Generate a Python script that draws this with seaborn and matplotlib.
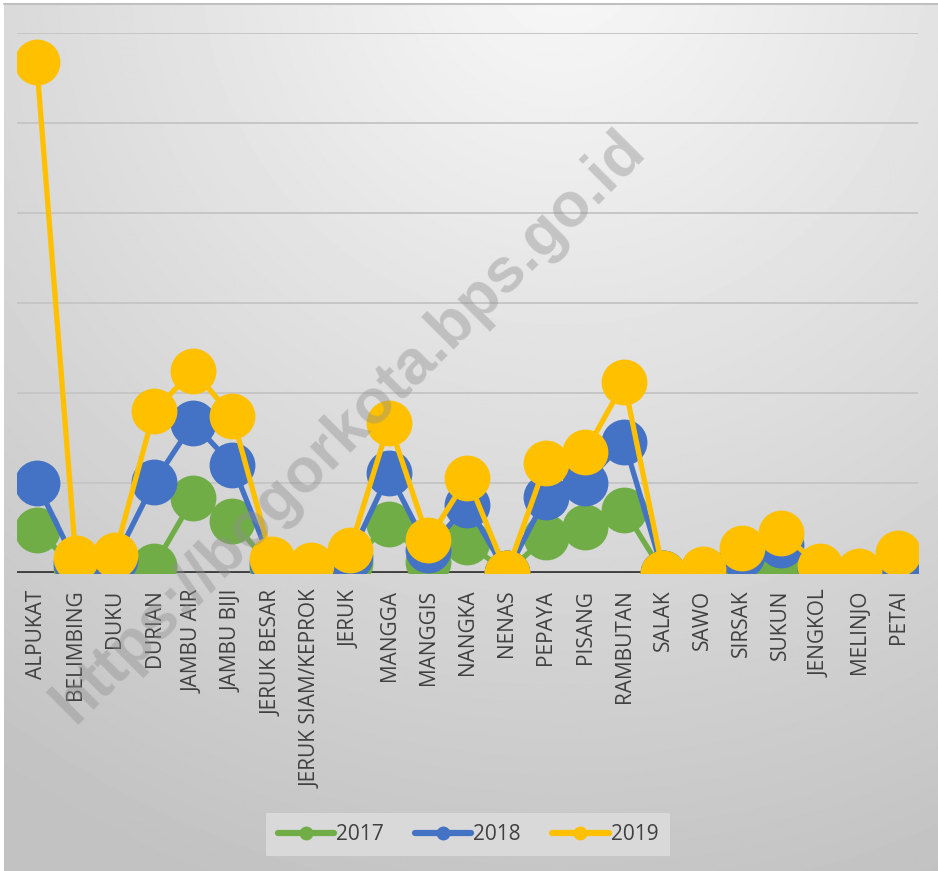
import numpy as np
import pandas as pd
import matplotlib
matplotlib.use("Agg")
import matplotlib.pyplot as plt
from matplotlib.lines import Line2D
import seaborn as sns

# Data (in gridline units x 1000; the chart shows no y labels)
buah = ['ALPUKAT', 'BELIMBING', 'DUKU', 'DURIAN', 'JAMBU AIR', 'JAMBU BIJI',
        'JERUK BESAR', 'JERUK SIAM/KEPROK', 'JERUK', 'MANGGA', 'MANGGIS',
        'NANGKA', 'NENAS', 'PEPAYA', 'PISANG', 'RAMBUTAN', 'SALAK', 'SAWO',
        'SIRSAK', 'SUKUN', 'JENGKOL', 'MELINJO', 'PETAI']
th2017 = [480, 60, 70, 80, 830, 580, 60, 35, 110, 550, 120, 340, 0, 400, 510,
          700, 0, 20, 90, 120, 35, 10, 70]
th2018 = [1000, 110, 140, 1010, 1670, 1200, 110, 55, 180, 1110, 260, 760, 0,
          840, 1000, 1460, 0, 35, 200, 310, 40, 15, 90]
th2019 = [5680, 170, 200, 1800, 2250, 1740, 160, 90, 260, 1670, 370, 1060, 0,
          1220, 1340, 2120, 0, 50, 280, 450, 80, 20, 220]
tahun = ['2017', '2018', '2019']
warna = ['#70AD47', '#4472C4', '#FFC000']

df = pd.DataFrame({
    'buah': buah * 3,
    'nilai': th2017 + th2018 + th2019,
    'tahun': [t for t in tahun for _ in buah],
})
df['pos'] = df['buah'].map({b: i for i, b in enumerate(buah)})

sns.set_theme(style='white')
plt.rcParams['font.family'] = ['Open Sans', 'DejaVu Sans']

W, H = 938, 871
fig = plt.figure(figsize=(W / 100, H / 100), dpi=100, facecolor='white')

# background gradient like the office chart style
bg = fig.add_axes([4 / W, 0, 1 - 4 / W, 1 - 5 / H], zorder=-5)
yy, xx = np.mgrid[0:H, 0:W]
dist = np.sqrt((xx - 560) ** 2 + (yy + 40) ** 2)
shade = np.clip(248 - 0.055 * dist, 194, 246) / 255
bg.imshow(shade, cmap='gray', vmin=0, vmax=1, aspect='auto', interpolation='bilinear')
bg.axis('off')
fig.add_artist(Line2D([4 / W, 1], [1 - 4.5 / H, 1 - 4.5 / H], color='#c0c0c0', lw=1.5))

ax = fig.add_axes([17 / W, 1 - 573 / H, 901 / W, 540 / H])
ax.set_facecolor('none')

sns.lineplot(data=df, x='pos', y='nilai', hue='tahun', palette=warna,
             marker='o', markersize=33, markeredgewidth=0, linewidth=3.8,
             legend=False, ax=ax, zorder=3)

ax.set_xlim(-0.5, len(buah) - 0.5)
ax.set_ylim(0, 6000)
ax.set_yticks(np.arange(1000, 6001, 1000))
ax.set_yticklabels([])
ax.yaxis.grid(True, color='#c6c6c6', lw=1.4)
ax.set_axisbelow(True)
ax.axhline(0, color='#404040', lw=2.8, zorder=2)
ax.set_xticks(range(len(buah)))
ax.set_xticklabels(buah, rotation=90, fontsize=15, color='#404040', va='top')
ax.tick_params(axis='x', length=0, pad=12)
ax.tick_params(axis='y', length=0)
ax.set_xlabel('')
ax.set_ylabel('')
for s in ax.spines.values():
    s.set_visible(False)

# watermark
fig.text(0.372, 0.51, 'https://bogorkota.bps.go.id', rotation=45,
         fontsize=45, fontweight='bold', family='Liberation Sans',
         color='#909090', alpha=0.42, ha='center', va='center', zorder=10)

handles = [Line2D([0], [0], color=c, lw=4.5, marker='o', markersize=9,
                  solid_capstyle='round') for c in warna]
leg = fig.legend(handles, tahun, loc='center', bbox_to_anchor=(468 / W, 1 - 834.5 / H),
                 ncol=3, fontsize=15, frameon=True, fancybox=False,
                 handlelength=2.7, handletextpad=0.1, columnspacing=1.5,
                 borderpad=0.55, borderaxespad=0)
leg.get_frame().set_facecolor('#d9d9d9')
leg.get_frame().set_edgecolor('none')
leg.get_frame().set_alpha(1)
for t in leg.get_texts():
    t.set_color('#404040')

fig.savefig('out.png', dpi=100, facecolor='white')
